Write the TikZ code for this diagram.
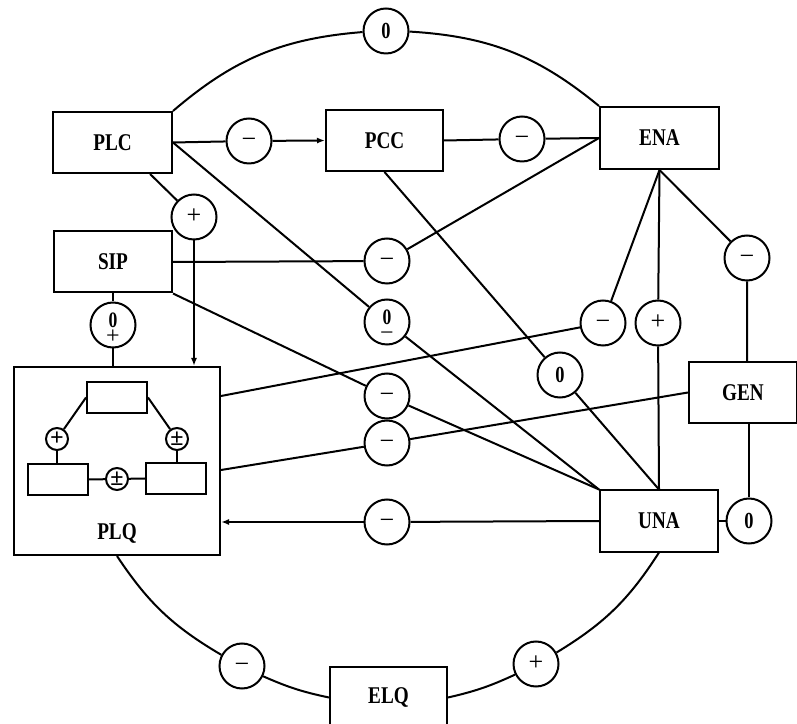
\documentclass[tikz,border=0pt]{standalone}
\usepackage{fontspec}
\setmainfont{Liberation Serif}
\newfontfamily\labfont[FakeStretch=0.8]{Liberation Serif}
\usetikzlibrary{arrows.meta}
\begin{document}
\begin{tikzpicture}[x=1pt,y=1pt, line width=2pt,
 lab/.style={inner sep=0, font=\labfont\bfseries\fontsize{24}{24}\selectfont},
 box/.style={draw, rectangle, inner sep=0, minimum width=119, minimum height=61, font=\labfont\bfseries\fontsize{24}{24}\selectfont},
 ring/.style={draw, circle, inner sep=0, minimum size=45},
 sig/.style={ring, font=\fontsize{26}{26}\selectfont, text height=13pt, text depth=0pt},
 zero/.style={ring, font=\labfont\bfseries\fontsize{23}{23}\selectfont, text height=15.5pt, text depth=0pt},
 ztop/.style={inner sep=0, font=\labfont\bfseries\fontsize{22}{22}\selectfont, text height=15pt, text depth=0pt},
 sbot/.style={inner sep=0, font=\fontsize{24}{24}\selectfont, text height=12pt, text depth=0pt},
 ibox/.style={draw, rectangle, inner sep=0, minimum width=60, minimum height=31},
 iring/.style={draw, circle, inner sep=0, minimum size=22, font=\bfseries\fontsize{24}{24}\selectfont},
 arr/.style={-{Latex[length=8pt,width=6pt]}}
]
\useasboundingbox (0,0) rectangle (797,723);
% boxes
\node[box] (PLC) at (112.5,580.5) {PLC};
\node[box, minimum width=117] (PCC) at (384.5,582.5) {PCC};
\node[box, minimum height=62] (ENA) at (659.5,585) {ENA};
\node[box, minimum width=118] (SIP) at (113,461) {SIP};
\node[draw, rectangle, inner sep=0, minimum width=206, minimum height=188] (PLQ) at (117,262) {};
\node[lab] (PLQt) at (117,190) {PLQ};
\node[box, minimum width=108] (GEN) at (743,330.5) {GEN};
\node[box, minimum width=118] (UNA) at (659,202) {UNA};
\node[box, minimum width=117] (ELQ) at (388.5,25.5) {ELQ};
% circles
\node[zero] (c0top) at (386,692) {0};
\node[sig] (m1) at (249,582) {−};
\node[sig] (m2) at (522,584) {−};
\node[sig] (p1) at (194,506) {+};
\node[sig] (m3) at (387,462) {−};
\node[ring, label={[ztop, yshift=5pt]center:0}, label={[sbot, yshift=-13pt]center:−}] (z0m) at (387,401) {};
\node[ring, label={[ztop, yshift=5pt]center:0}, label={[sbot, yshift=-13pt]center:+}] (z0p) at (113,398) {};
\node[sig] (m4) at (387,327) {−};
\node[sig] (m5) at (387,280) {−};
\node[sig] (m6) at (387,201) {−};
\node[zero] (z1) at (560,348) {0};
\node[sig] (m7) at (603,400) {−};
\node[sig] (p2) at (658,400) {+};
\node[sig] (m8) at (747,465) {−};
\node[zero] (z2) at (749,202) {0};
\node[sig] (m9) at (242,57) {−};
\node[sig] (p3) at (536,59) {+};
% inner structure of PLQ
\node[ibox] (iT) at (117,325.5) {};
\node[ibox] (iL) at (58,243.5) {};
\node[ibox] (iR) at (176,244.5) {};
\node[iring] (sL) at (57,284) {+};
\node[iring] (sR) at (177,284) {±};
\node[iring] (sM) at (117,244) {±};
\draw (iT.west) -- (sL);
\draw (sL) -- (sL |- iL.north);
\draw (iT.east) -- (sR);
\draw (sR) -- (sR |- iR.north);
\draw (iL.east) -- (sM) -- (iR.west);
% big circle arcs
\draw (PLC.north east) to[bend left=18] (c0top);
\draw (c0top) to[bend left=18] (ENA.north west);
\draw (PLQ.south) to[bend right=13] (m9);
\draw (m9) to[bend right=6] (ELQ.west);
\draw (ELQ.east) to[bend right=6] (p3);
\draw (p3) to[bend right=13] (UNA.south);
% connectors
\draw (PLC.east) -- (m1);
\draw[arr] (m1) -- (PCC.west);
\draw (PCC.east) -- (m2) -- (ENA.west);
\draw (SIP.east) -- (m3) -- (ENA.west);
\draw (PLC.east) -- (z0m) -- (UNA.north west);
\draw (PLC.-40) -- (p1);
\draw[arr] (p1) -- (p1 |- PLQ.north);
\draw (SIP.south) -- (z0p) -- (z0p |- PLQ.north);
\draw (SIP.south east) -- (m4) -- (UNA.north west);
\draw ([yshift=65]PLQ.east) -- (m7) -- (ENA.south);
\draw ([yshift=-9]PLQ.east) -- (m5) -- (GEN.west);
\draw (UNA.west) -- (m6);
\draw[arr] (m6) -- (m6 -| PLQ.east);
\draw (ENA.south) -- (p2) -- (UNA.north);
\draw (ENA.south) -- (m8) -- (m8 |- GEN.north);
\draw (z2 |- GEN.south) -- (z2);
\draw (UNA.east) -- (z2);
\draw (PCC.south) -- (z1) -- (UNA.north);
\end{tikzpicture}
\end{document}
